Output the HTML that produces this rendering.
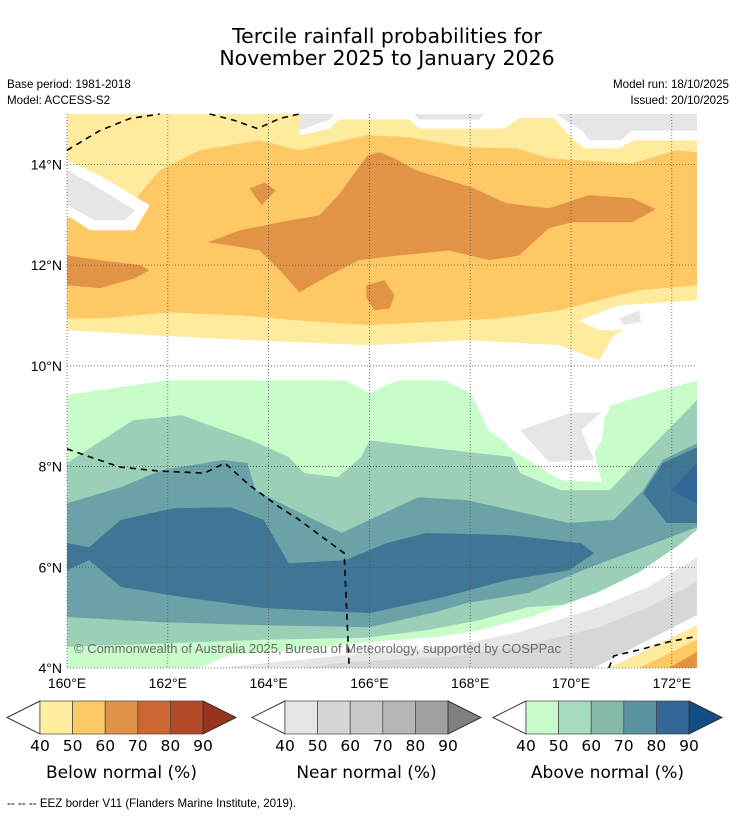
<!DOCTYPE html>
<html><head><meta charset="utf-8"><style>
body{margin:0;background:#fff;width:736px;height:816px;overflow:hidden;font-family:"Liberation Sans","DejaVu Sans",sans-serif}
svg{display:block}
.dj{font-family:"DejaVu Sans","Liberation Sans",sans-serif}
</style></head><body>
<svg id="c" width="736" height="816" viewBox="0 0 736 816">
<text class="dj" x="387" y="43" font-size="20.5" text-anchor="middle">Tercile rainfall probabilities for</text>
<text class="dj" x="387" y="65" font-size="20.5" text-anchor="middle">November 2025 to January 2026</text>
<text x="7" y="88" font-size="11.6">Base period: 1981-2018</text>
<text x="7" y="104" font-size="11.6">Model: ACCESS-S2</text>
<text x="729" y="88" font-size="11.6" text-anchor="end">Model run: 18/10/2025</text>
<text x="729" y="104" font-size="11.6" text-anchor="end">Issued: 20/10/2025</text>
<g id="map"></g>
<g id="bars"></g>
<text x="7" y="807" font-size="11.6">--  --  -- EEZ border V11 (Flanders Marine Institute, 2019).</text>
</svg>
<script>
// axis ticks
const lonTicks=[160,162,164,166,168,170,172];
const latTicks=[4,6,8,10,12,14];
// filled contour regions (lon/lat)
const yellowRegion=[160,15,172.5,15,172.5,11.1,171.35,10.87,170.85,10.6,170.55,10.11,169.76,10.41,167.98,10.51,166,10.41,163.62,10.51,161.64,10.61,160,10.71];
const orangeRegion=[160,12.93,161.25,13.19,161.84,13.88,162.63,14.28,163.82,14.48,164.61,14.28,165.94,14.58,166.79,14.54,167.92,14.34,168.91,14.32,169.56,14.12,171.21,14.02,172.08,14.28,172.5,14.24,172.5,11.6,171.35,11.5,170.55,11.3,169.76,11.1,168.57,10.94,167.19,10.87,166,10.81,164.61,10.9,163.43,11,162.04,11.06,160.65,10.94,160,10.94];
const darkOrangeMain=[162.79,12.45,163.43,12.69,164.22,12.85,165.01,12.99,165.41,13.42,165.96,14.18,166.2,14.24,166.5,14.12,166.93,13.88,168.04,13.54,168.71,13.23,169.56,13.13,170.36,13.39,171.21,13.33,171.68,13.11,171.21,12.85,170.02,12.85,169.56,12.73,168.97,12.19,168.38,12.1,167.58,12.29,166.59,12.19,165.8,12.1,165.21,11.8,164.61,11.46,164.22,11.9,163.82,12.29,163.23,12.39];
const darkOrangeSmall=[163.62,13.52,163.92,13.64,164.14,13.48,163.86,13.19];
const darkOrangeLeft=[160,12.19,160.65,12.1,161.45,12,161.64,11.9,161.35,11.74,160.65,11.54,160,11.6];
const darkOrangeBlob=[165.94,11.6,166.3,11.7,166.5,11.4,166.4,11.14,166.1,11.1,165.94,11.35];
const topRightWhite=[164.61,15,172.5,15,172.5,14.48,171.25,14.48,170.95,14.32,170.26,14.32,169.96,14.58,169.66,14.92,168.97,14.92,168.67,14.71,166.99,14.71,166.79,14.89,165.41,14.89,165.21,14.71,164.61,14.58];
const topRightGrey=[169.7,15,172.5,15,172.5,14.67,171.21,14.67,170.99,14.48,170.36,14.48,170.22,14.67,169.96,14.83];
const topMidGrey=[166.89,15,168.28,15,168.18,14.89,166.99,14.89];
const topLeftGreyB=[164.61,15,165.31,15,165.21,14.89,164.61,14.67];
const topLeftWhite=[160,14.08,160.65,13.78,161.64,13.19,161.35,12.69,160.46,12.69,160,12.99];
const topLeftGrey=[160,13.88,160.55,13.58,161.35,13.09,161.15,12.89,160.55,12.89,160,13.19];
const rightWhite=[170.16,10.9,170.95,11.2,172.5,11.3,172.5,10.9,171.35,10.71,170.55,10.71];
const rightGrey=[170.95,10.94,171.35,11.1,171.39,10.87,171.05,10.81];
const lightGreen=[160,9.42,161.96,9.71,165.52,9.71,166,9.46,166.57,9.71,167.47,9.71,168.02,9.46,168.36,8.72,168.83,8.38,169.56,7.87,169.96,7.73,170.3,7.99,170.61,8.52,170.69,9.18,171.58,9.46,172.5,9.71,172.5,4,160,4];
const midGreen=[160,8.07,161.31,8.92,162.28,9.02,163.66,8.52,164.4,8.19,164.71,7.87,165.37,7.79,165.84,8.19,166,8.52,167.13,8.38,168.83,8.19,168.99,7.87,169.8,7.53,170.77,7.53,171.58,8.38,172.5,9.32,172.5,6.28,171.17,5.61,170.38,5.29,169.15,5.21,168.18,4.95,167.13,4.75,165.92,4.6,163.9,4.56,162.28,4.5,160,4.42];
const tealRegion=[160,7.27,161.07,7.59,161.88,7.93,163.09,8.13,163.58,8.07,163.74,7.53,164.4,7.19,165.45,6.68,166,6.94,166.97,7.39,167.94,7.33,169.96,6.88,170.85,6.94,171.43,7.53,171.82,8.13,172.5,8.46,172.5,6.8,171.66,6.48,170.38,6,169.15,5.49,167.94,5.29,167.31,5.11,166,4.81,163.9,4.85,161.88,4.91,160,5.01];
const darkBlue=[160,6.48,160.44,6.4,161.07,6.94,162.12,7.17,163.25,7.19,163.9,6.94,164.4,6.08,165.52,6.14,166.34,6.48,167.13,6.68,168.75,6.64,170.2,6.48,170.46,6.28,169.96,5.94,168.75,5.75,167.47,5.41,166,5.09,163.9,5.19,162.28,5.41,161.07,5.61,160.44,6.14,160,5.94];
const darkBlueRight=[172.5,8.38,171.82,8.07,171.43,7.47,171.9,6.88,172.5,6.88];
const darkestRight=[172.5,8.07,171.98,7.53,172.5,7.27];
const midWhite=[168.75,8.72,169.96,9.18,170.79,9.18,170.4,8.52,170.61,7.69,169.8,7.73,168.75,8.38];
const midGrey=[168.99,8.72,169.96,9.06,170.61,9.08,170.2,8.72,170.46,8.13,169.56,8.09];
const bottomWhite=[162.63,4,163.23,4.26,164.61,4.36,166,4.52,167.39,4.62,168.18,4.75,169.17,5.01,170.55,5.51,171.35,5.9,172.14,6.44,172.5,6.74,172.5,4];
const bottomGrey1=[162.93,4,164.61,4.16,166.2,4.32,167.58,4.42,168.97,4.71,170.55,5.21,171.54,5.61,172.5,6.2,172.5,4];
const bottomGrey2=[164.61,4,165.6,4.12,167.58,4.22,169.17,4.46,170.55,4.81,171.54,5.21,172.5,5.71,172.5,4.56,171.74,4];
const cornerWhite=[170.45,4,172.5,5.05,172.5,4];
const cornerYellow=[170.75,4,172.5,4.85,172.5,4];
const cornerOrange=[171.35,4,172.5,4.56,172.5,4];
const cornerDark=[171.94,4,172.5,4.32,172.5,4];
// EEZ borders
const eezA1=[160,14.28,160.65,14.67,161.25,14.91,161.84,15];
const eezA2=[162.83,15,163.33,14.87,163.78,14.71,164.22,14.91,164.61,15];
const eezB=[160,8.35,160.46,8.19,161.05,7.99,161.84,7.91,162.73,7.87,163.13,8.07,163.62,7.63,164.22,7.19,164.61,6.94,165.5,6.28,165.54,5.35,165.6,4];
const eezC=[170.75,4,170.85,4.24,171.35,4.36,171.94,4.52,172.5,4.63];
// colourbar labels
const barLabels=["40","50","60","70","80","90"];

const NS='http://www.w3.org/2000/svg';
const X0=67,X1=697,Y0=114,Y1=668,LON0=160,LON1=172.5,LAT0=4,LAT1=15;
const sx=lon=>X0+(lon-LON0)/(LON1-LON0)*(X1-X0);
const sy=lat=>Y1-(lat-LAT0)/(LAT1-LAT0)*(Y1-Y0);
const map=document.getElementById('map');
function pts(a){let s=[];for(let i=0;i<a.length;i+=2)s.push(sx(a[i]).toFixed(1)+','+sy(a[i+1]).toFixed(1));return s.join(' ');}
const layers=[
 [yellowRegion,'#ffeb9d','below-40-50'],[orangeRegion,'#fec965','below-50-60'],
 [darkOrangeMain,'#e29446','below-60-70-main'],[darkOrangeSmall,'#e29446','below-60-70-small'],[darkOrangeLeft,'#e29446','below-60-70-left'],[darkOrangeBlob,'#e29446','below-60-70-blob'],
 [topRightWhite,'#ffffff','top-right-white'],[topRightGrey,'#e6e6e6','near-40-50-top-right'],[topMidGrey,'#e6e6e6','near-40-50-top-mid'],[topLeftGreyB,'#e6e6e6','near-40-50-top-b'],
 [topLeftWhite,'#ffffff','top-left-white'],[topLeftGrey,'#e6e6e6','near-40-50-top-left'],
 [rightWhite,'#ffffff','right-white'],[rightGrey,'#e6e6e6','near-40-50-right'],
 [lightGreen,'#c8fcc9','above-40-50'],[midGreen,'#9ccfb8','above-50-60'],[tealRegion,'#6ba2a8','above-60-70'],
 [darkBlue,'#3f7696','above-70-80'],[darkBlueRight,'#3f7696','above-70-80-right'],[darkestRight,'#336699','above-80-90-right'],
 [midWhite,'#ffffff','mid-white'],[midGrey,'#e6e6e6','near-40-50-mid'],
 [bottomWhite,'#ffffff','bottom-white'],[bottomGrey1,'#e6e6e6','near-40-50-bottom'],[bottomGrey2,'#d7d7d7','near-50-60-bottom'],
 [cornerWhite,'#ffffff','corner-white'],[cornerYellow,'#ffeb9d','corner-below-40-50'],[cornerOrange,'#fec965','corner-below-50-60'],[cornerDark,'#e29446','corner-below-60-70']
];
for(const [a,c,n] of layers){
 const p=document.createElementNS(NS,'polygon');
 p.setAttribute('points',pts(a));p.setAttribute('fill',c);
 
 
 map.appendChild(p);
}
for(const t of lonTicks){
 const l=document.createElementNS(NS,'line');
 l.setAttribute('x1',sx(t));l.setAttribute('x2',sx(t));l.setAttribute('y1',Y0);l.setAttribute('y2',Y1);
 l.setAttribute('stroke','#555');l.setAttribute('stroke-width','0.8');l.setAttribute('stroke-dasharray','1,2');
 
 
 map.appendChild(l);
 const tx=document.createElementNS(NS,'text');
 tx.setAttribute('x',sx(t));tx.setAttribute('y',Y1+20);tx.setAttribute('font-size','14');tx.setAttribute('text-anchor','middle');
 tx.textContent=t+'°E';
 
 
 map.appendChild(tx);
}
for(const t of latTicks){
 const l=document.createElementNS(NS,'line');
 l.setAttribute('x1',X0);l.setAttribute('x2',X1);l.setAttribute('y1',sy(t));l.setAttribute('y2',sy(t));
 l.setAttribute('stroke','#555');l.setAttribute('stroke-width','0.8');l.setAttribute('stroke-dasharray','1,2');
 
 
 map.appendChild(l);
 const tx=document.createElementNS(NS,'text');
 tx.setAttribute('x',X0-5);tx.setAttribute('y',sy(t)+5);tx.setAttribute('font-size','14');tx.setAttribute('text-anchor','end');
 tx.textContent=t+'°N';
 
 
 map.appendChild(tx);
}
for(const a of [eezA1,eezA2,eezB,eezC]){
 const p=document.createElementNS(NS,'polyline');
 p.setAttribute('points',pts(a));p.setAttribute('fill','none');p.setAttribute('stroke','#000');
 p.setAttribute('stroke-width','1.6');p.setAttribute('stroke-dasharray','6,5');
 
 
 map.appendChild(p);
}
const cp=document.createElementNS(NS,'text');
cp.setAttribute('x',74);cp.setAttribute('y',653);cp.setAttribute('font-size','13');cp.setAttribute('fill','#6a6a6a');
cp.textContent='© Commonwealth of Australia 2025, Bureau of Meteorology, supported by COSPPac';


map.appendChild(cp);

const bars=document.getElementById('bars');
const barDefs=[
 {x:40,cols:['#ffeda0','#fec965','#e09346','#cc6633','#b34a27'],tri:'#993320',title:'Below normal (%)',n:'below-normal-colorbar'},
 {x:285,cols:['#e6e6e6','#d6d6d6','#c8c8c8','#b5b5b5','#a0a0a0'],tri:'#808080',title:'Near normal (%)',n:'near-normal-colorbar'},
 {x:526,cols:['#c8fbca','#a5dcbf','#84b9ac','#5a93a0','#336699'],tri:'#134d85',title:'Above normal (%)',n:'above-normal-colorbar'}
];
const BW=32.6,BY=701,BH=33;
for(const b of barDefs){
 const g=document.createElementNS(NS,'g');
 
 
 const x1=b.x+BW*5;
 const lt=document.createElementNS(NS,'polygon');
 lt.setAttribute('points',`${b.x},${BY} ${b.x-33},${BY+BH/2} ${b.x},${BY+BH}`);lt.setAttribute('fill','#fff');lt.setAttribute('stroke','#333');
 g.appendChild(lt);
 b.cols.forEach((c,i)=>{const r=document.createElementNS(NS,'rect');r.setAttribute('x',b.x+i*BW);r.setAttribute('y',BY);r.setAttribute('width',BW);r.setAttribute('height',BH);r.setAttribute('fill',c);r.setAttribute('stroke','#444');r.setAttribute('stroke-width','0.7');g.appendChild(r);});
 const rt=document.createElementNS(NS,'polygon');
 rt.setAttribute('points',`${x1},${BY} ${x1+33},${BY+BH/2} ${x1},${BY+BH}`);rt.setAttribute('fill',b.tri);rt.setAttribute('stroke','#333');
 g.appendChild(rt);
 barLabels.forEach((t,i)=>{const tx=document.createElementNS(NS,'text');tx.setAttribute('class','dj');tx.setAttribute('x',b.x+i*BW);tx.setAttribute('y',751);tx.setAttribute('font-size','15.5');tx.setAttribute('text-anchor','middle');tx.textContent=t;g.appendChild(tx);});
 const tt=document.createElementNS(NS,'text');tt.setAttribute('class','dj');tt.setAttribute('x',b.x+BW*2.5);tt.setAttribute('y',778);tt.setAttribute('font-size','17');tt.setAttribute('text-anchor','middle');tt.textContent=b.title;g.appendChild(tt);
 bars.appendChild(g);
}
</script>
</body></html>
